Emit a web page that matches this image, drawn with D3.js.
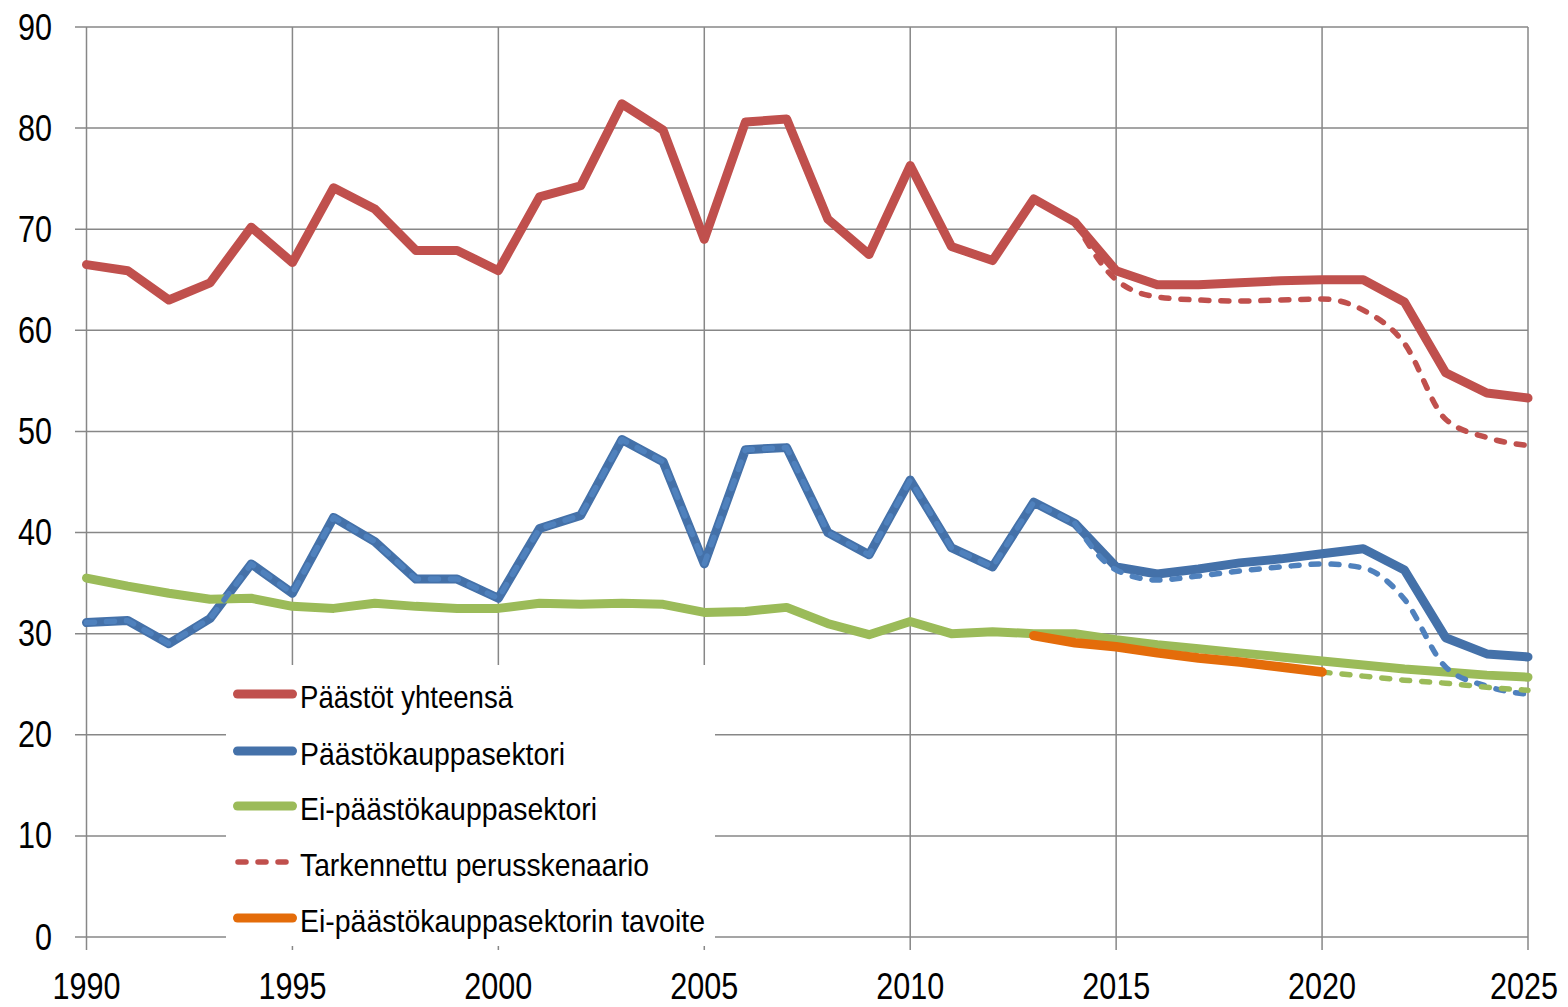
<!DOCTYPE html>
<html><head><meta charset="utf-8">
<script src="https://cdn.jsdelivr.net/npm/d3@7"></script>
<style>body{margin:0;background:#fff}svg{display:block}</style>
</head><body>
<svg id="c" width="1568" height="1007"></svg>
<script>
const years = [1990,1991,1992,1993,1994,1995,1996,1997,1998,1999,2000,2001,2002,2003,2004,2005,2006,2007,2008,2009,2010,2011,2012,2013,2014,2015,2016,2017,2018,2019,2020,2021,2022,2023,2024,2025];
const totalEmissions = [66.5,65.9,63.0,64.7,70.2,66.7,74.1,72.0,67.9,67.9, 65.9,73.2,74.3,82.4,79.8,69.0,80.6,80.9,71.0,67.5, 76.3,68.3,66.9,73.0,70.7,65.9,64.5,64.5,64.7,64.9, 65.0,65.0,62.8,55.8,53.8,53.3];
const etsSector = [31.1,31.3,29.0,31.5,36.9,34.0,41.5,39.1,35.4,35.4, 33.5,40.4,41.7,49.2,47.0,36.9,48.2,48.4,40.0,37.8, 45.2,38.5,36.6,43.0,40.9,36.6,35.9,36.4,37.0,37.4, 37.9,38.4,36.3,29.6,28.0,27.7];
const nonEtsSector = [35.5,34.7,34.0,33.4,33.5,32.7,32.5,33.0,32.7,32.5, 32.5,33.0,32.9,33.0,32.9,32.1,32.2,32.6,31.0,29.9, 31.2,30.0,30.2,30.0,30.0,29.4,28.9,28.5,28.1,27.7, 27.3,26.9,26.5,26.2,25.9,25.7];
const totalScenario = [66.5,65.9,63.0,64.7,70.2,66.7,74.1,72.0,67.9,67.9, 65.9,73.2,74.3,82.4,79.8,69.0,80.6,80.9,71.0,67.5, 76.3,68.3,66.9,73.0,70.7,65.0,63.3,63.0,62.9,63.0, 63.1,62.0,58.7,51.2,49.4,48.6];
const etsScenario = [31.1,31.3,29.0,31.5,36.9,34.0,41.5,39.1,35.4,35.4, 33.5,40.4,41.7,49.2,47.0,36.9,48.2,48.4,40.0,37.8, 45.2,38.5,36.6,43.0,40.9,36.3,35.3,35.7,36.2,36.6, 36.9,36.5,33.4,26.7,24.8,24.0];
const nonEtsScenario = [null,null,null,null,null,null,null,null,null,null, null,null,null,null,null,null,null,null,null,null, null,null,null,null,null,null,null,null,null,null, 26.2,25.8,25.4,25.1,24.7,24.4];
const targetYears = [2013,2014,2015,2016,2017,2018,2019,2020];
const nonEtsTarget = [29.8,29.1,28.7,28.1,27.6,27.2,26.7,26.2];
const scenarioStart = 2014;
const yTicks = [0,10,20,30,40,50,60,70,80,90];
const xTicks = [1990,1995,2000,2005,2010,2015,2020,2025];
const legendLabels = ["Päästöt yhteensä","Päästökauppasektori","Ei-päästökauppasektori","Tarkennettu perusskenaario","Ei-päästökauppasektorin tavoite"];
const legendWidths = [213,265,297,349,405];

const svg = d3.select("#c");
const x = d3.scaleLinear().domain([1990,2025]).range([86.5,1528]);
const y = d3.scaleLinear().domain([0,90]).range([937,27]);
const FONT = "'Liberation Sans Narrow','Arial Narrow','Liberation Sans',sans-serif";
const GRID = "#878787";

svg.append("g").selectAll("line").data(yTicks).join("line")
  .attr("x1",75).attr("x2",1528).attr("y1",d=>y(d)).attr("y2",d=>y(d))
  .attr("stroke",GRID).attr("stroke-width",1.5);
svg.append("g").selectAll("line").data(xTicks).join("line")
  .attr("x1",d=>x(d)).attr("x2",d=>x(d)).attr("y1",27).attr("y2",950)
  .attr("stroke",GRID).attr("stroke-width",1.5);

svg.append("g").selectAll("text").data(yTicks).join("text")
  .attr("x",52).attr("y",d=>y(d)+12.5).attr("text-anchor","end")
  .attr("font-family",FONT).attr("font-size",36).attr("fill","#000")
  .attr("textLength",d=>String(d).length*17).attr("lengthAdjust","spacingAndGlyphs")
  .text(d=>d);
const lastTick = xTicks[xTicks.length-1];
svg.append("g").selectAll("text").data(xTicks).join("text")
  .attr("x",d=> d===lastTick ? Math.min(x(d)+34, 1558) : x(d))
  .attr("y",999)
  .attr("text-anchor",d=> d===lastTick ? "end" : "middle")
  .attr("font-family",FONT).attr("font-size",36).attr("fill","#000")
  .attr("textLength",68).attr("lengthAdjust","spacingAndGlyphs")
  .text(d=>d);

function drawLine(xs, vals, color, width, dash, curve){
  const gen = d3.line()
    .defined(i=>vals[i]!=null)
    .x(i=>x(xs[i])).y(i=>y(vals[i]))
    .curve(curve || d3.curveLinear);
  const p = svg.append("path").attr("d",gen(d3.range(xs.length)))
    .attr("fill","none").attr("stroke",color).attr("stroke-width",width)
    .attr("stroke-linejoin","round").attr("stroke-linecap","round");
  if(dash) p.attr("stroke-dasharray",dash);
  return p;
}
function drawScenario(vals, color){
  const k = years.indexOf(scenarioStart);
  const hist = vals.map((v,i)=> i<=k ? v : null);
  const fut = vals.map((v,i)=> i>=k ? v : null);
  drawLine(years,hist,color,5.5,"8,12");
  drawLine(years,fut,color,5.5,"8,12",d3.curveMonotoneX);
}
const RED="#C0504D", BLUE="#4471A9", BLUE2="#4F81BD", GREEN="#9BBB59", ORANGE="#E46C0A";

drawLine(years,totalEmissions,RED,9);
drawLine(years,etsSector,BLUE,9);
drawLine(years,nonEtsSector,GREEN,9);
drawScenario(totalScenario,RED);
drawScenario(etsScenario,BLUE2);
drawLine(years,nonEtsScenario,GREEN,5.5,"8,12",d3.curveMonotoneX);
drawLine(targetYears,nonEtsTarget,ORANGE,9.5);

const lg = svg.append("g");
lg.append("rect").attr("x",226).attr("y",665).attr("width",489).attr("height",281).attr("fill","#fff");
const rows = [694,751,806,862,918];
const legStyles = [
  {c:RED,w:9,dash:null},{c:BLUE,w:9,dash:null},{c:GREEN,w:9,dash:null},
  {c:RED,w:5.5,dash:"8,12"},{c:ORANGE,w:9,dash:null}
];
legendLabels.forEach((lab,i)=>{
  const s = legStyles[i];
  const l = lg.append("line").attr("x1",s.dash?238:237.5).attr("x2",s.dash?290:292.5)
    .attr("y1",rows[i]).attr("y2",rows[i])
    .attr("stroke",s.c).attr("stroke-width",s.w).attr("stroke-linecap","round");
  if(s.dash) l.attr("stroke-dasharray",s.dash);
  lg.append("text").attr("x",300).attr("y",rows[i]+14)
    .attr("font-family",FONT).attr("font-size",32).attr("fill","#000")
    .attr("textLength",legendWidths[i]).attr("lengthAdjust","spacingAndGlyphs")
    .text(lab);
});
</script>
</body></html>
